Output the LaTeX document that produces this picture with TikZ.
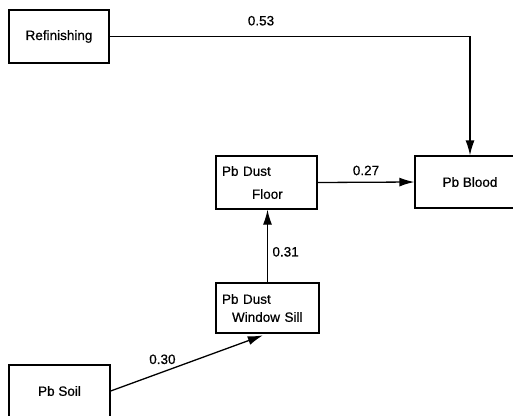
\documentclass[tikz,border=0pt]{standalone}
\usepackage{fontspec}
\setmainfont{Liberation Sans}[FakeBold=0.6]
\usetikzlibrary{arrows.meta}

\begin{document}
\begin{tikzpicture}[x=1pt, y=-1pt,
  factor/.style={draw, rectangle, line width=1.3pt, inner sep=0pt,
                 font=\fontsize{13.5}{16}\selectfont},
  pathedge/.style={-{Latex[length=15pt,width=9pt]}, line width=1.3pt},
  coef/.style={font=\fontsize{13.5}{16}\selectfont}
]
  \path[use as bounding box] (0,0) rectangle (513,415);
  \node[factor, minimum width=100pt, minimum height=53pt] (refin) at (59,36.5) {Refinishing};
  \node[factor, minimum width=110pt, minimum height=52pt] (blood) at (470,182) {Pb Blood};
  \node[factor, minimum width=101pt, minimum height=53pt, text width=89pt,
        align=left, font=\fontsize{13.5}{23}\selectfont] (floor) at (266.5,182.5)
        {Pb Dust\\\hspace*{30pt}Floor};
  \node[factor, minimum width=103pt, minimum height=50pt, text width=91pt,
        align=left, font=\fontsize{13.5}{18}\selectfont] (sill) at (267.5,308)
        {Pb Dust\\\hspace*{10pt}Window Sill};
  \node[factor, minimum width=101pt, minimum height=52pt] (soil) at (59.5,391) {Pb Soil};

  \draw[pathedge] (refin.east) -| node[coef, pos=0.21, above=7pt] {0.53} (blood.north);
  \draw[pathedge] (floor.east) -- node[coef, above=3pt] {0.27} (blood.west);
  \draw[pathedge] (sill.north) -- node[coef, pos=0.42, right=1pt] {0.31} (sill.north |- floor.south);
  \draw[pathedge, shorten >=5pt] (soil.east) -- node[coef, pos=0.33, above=4pt] {0.30} (sill.south);
\end{tikzpicture}
\end{document}
